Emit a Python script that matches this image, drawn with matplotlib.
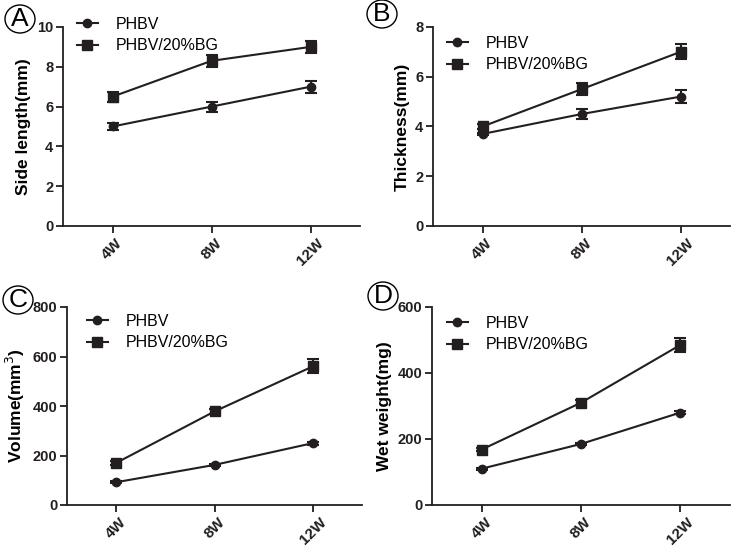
import matplotlib.pyplot as plt
from matplotlib.lines import Line2D
from matplotlib.patches import Ellipse

plt.rcParams['font.family'] = ['Liberation Sans', 'DejaVu Sans']

weeks = ['4W', '8W', '12W']
labels = ['PHBV', 'PHBV/20%BG']

# A: side length
side_phbv = [5.0, 6.0, 7.0]
side_phbv_err = [0.2, 0.25, 0.3]
side_bg = [6.5, 8.3, 9.0]
side_bg_err = [0.25, 0.3, 0.3]

# B: thickness
thick_phbv = [3.7, 4.5, 5.2]
thick_phbv_err = [0.05, 0.2, 0.25]
thick_bg = [4.0, 5.5, 7.0]
thick_bg_err = [0.1, 0.25, 0.3]

# C: volume
vol_phbv = [92, 162, 250]
vol_phbv_err = [4, 5, 6]
vol_bg = [170, 378, 560]
vol_bg_err = [8, 10, 28]

# D: wet weight
wet_phbv = [110, 185, 280]
wet_phbv_err = [3, 4, 5]
wet_bg = [168, 310, 485]
wet_bg_err = [5, 7, 20]

# letter, ylabel, data..., ymax, step, axes box (px), legend top-left (px), letter centre (px)
panels = [
    ('A', 'Side length(mm)', side_phbv, side_phbv_err, side_bg, side_bg_err, 10, 2,
     [63, 27, 360, 226], (77, 17), (20, 19)),
    ('B', 'Thickness(mm)', thick_phbv, thick_phbv_err, thick_bg, thick_bg_err, 8, 2,
     [433, 27, 730, 226], (447, 36), (382, 14)),
    ('C', 'Volume(mm$^3$)', vol_phbv, vol_phbv_err, vol_bg, vol_bg_err, 800, 200,
     [67, 307, 362, 505], (87, 314), (18, 300)),
    ('D', 'Wet weight(mg)', wet_phbv, wet_phbv_err, wet_bg, wet_bg_err, 600, 200,
     [432, 307, 730, 505], (447, 316), (383, 296)),
]

W, H = 735, 549
fig = plt.figure(figsize=(W / 100, H / 100), dpi=100)
col = '#231f20'

for letter, ylabel, p, pe, b, be, ymax, step, box, legpos, lpos in panels:
    x0, y0, x1, y1 = box
    ax = fig.add_axes([x0 / W, 1 - y1 / H, (x1 - x0) / W, (y1 - y0) / H])
    x = range(len(weeks))
    ax.errorbar(x, p, yerr=pe, color=col, marker='o', ms=6, lw=1.5,
                capsize=4, capthick=1.5, elinewidth=1.5)
    ax.errorbar(x, b, yerr=be, color=col, marker='s', ms=7, lw=1.5,
                capsize=4, capthick=1.5, elinewidth=1.5)
    ax.set_xlim(-0.5, 2.5)
    ax.set_ylim(0, ymax)
    ax.set_yticks(range(0, ymax + 1, step))
    ax.set_xticks(list(x))
    ax.set_xticklabels(weeks, rotation=45, fontweight='bold', fontsize=11)
    for t in ax.get_yticklabels():
        t.set_fontweight('bold')
        t.set_fontsize(10.5)
    ax.set_ylabel(ylabel, fontweight='bold', fontsize=12.5, labelpad=4)
    for s in ['top', 'right']:
        ax.spines[s].set_visible(False)
    for s in ['left', 'bottom']:
        ax.spines[s].set_linewidth(1.3)
        ax.spines[s].set_color(col)
    ax.tick_params(direction='out', length=5, width=1.3, colors=col, pad=2)

    handles = [Line2D([], [], color=col, marker='o', ms=6, lw=1.5),
               Line2D([], [], color=col, marker='s', ms=7, lw=1.5)]
    ax.legend(handles, labels, loc='upper left', frameon=False, fontsize=11.5,
              handlelength=1.3, handletextpad=1.1, borderpad=0, borderaxespad=0,
              labelspacing=0.4,
              bbox_to_anchor=(legpos[0] / W, 1 - legpos[1] / H),
              bbox_transform=fig.transFigure)

    cx, cy = lpos
    fig.text(cx / W, 1 - cy / H, letter, fontsize=19, ha='center', va='center')
    fig.add_artist(Ellipse((cx / W, 1 - cy / H), 30 / W, 28 / H,
                           transform=fig.transFigure, fill=False, ec='black', lw=1))

fig.savefig('out.png', dpi=100)
